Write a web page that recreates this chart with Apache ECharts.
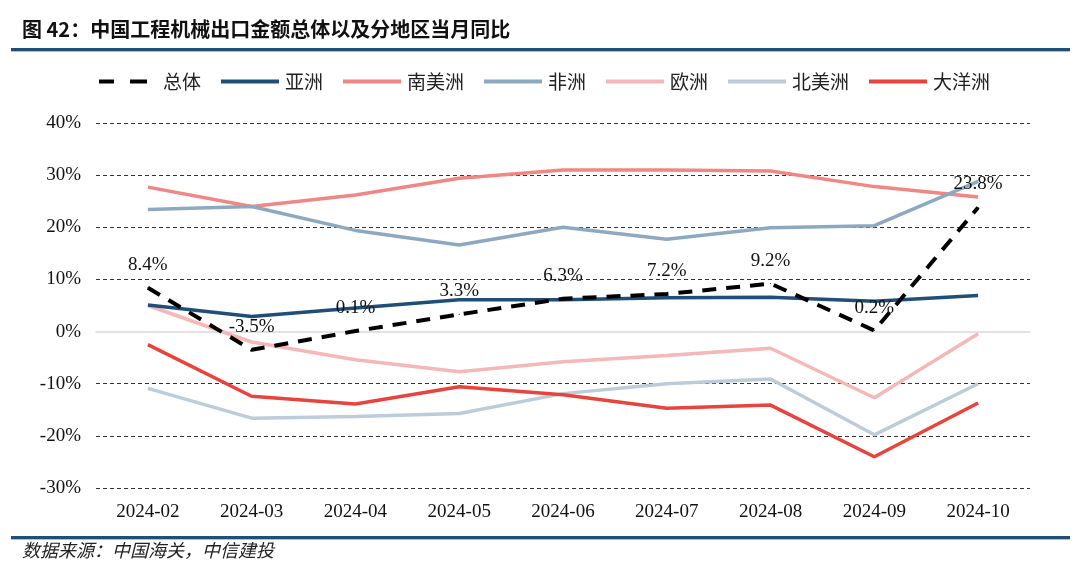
<!DOCTYPE html>
<html><head><meta charset="utf-8">
<script src="https://cdn.jsdelivr.net/npm/echarts@6/dist/echarts.min.js"></script>
<style>html,body{margin:0;padding:0;background:#fff}#c{width:1080px;height:571px}</style>
</head><body><div id="c"></div>
<script>
const categories = ['2024-02','2024-03','2024-04','2024-05','2024-06','2024-07','2024-08','2024-09','2024-10'];
const total   = [8.4, -3.5, 0.1, 3.3, 6.3, 7.2, 9.2, 0.2, 23.8];
const asia    = [5.1, 2.9, 4.5, 6.1, 6.1, 6.5, 6.6, 5.8, 6.9];
const samerica= [27.7, 24.0, 26.2, 29.4, 31.0, 31.0, 30.8, 27.8, 25.8];
const africa  = [23.4, 24.0, 19.4, 16.6, 20.0, 17.7, 19.9, 20.3, 28.8];
const europe  = [5.0, -2.0, -5.4, -7.7, -5.8, -4.6, -3.2, -12.7, -0.4];
const namerica= [-10.9, -16.6, -16.3, -15.7, -11.9, -10.0, -9.1, -19.8, -10.0];
const oceania = [-2.5, -12.4, -13.9, -10.6, -12.1, -14.7, -14.1, -24.0, -13.7];

const serif = '"Liberation Serif", "Times New Roman", "Noto Sans CJK SC", serif';
const cjk = '"Noto Sans CJK SC", sans-serif';
const solidIcon = 'path://M0,0h58v4h-58z';
const dashIcon = 'path://M0,0h15v4h-15z M31,0h17v4h-17z M58,0h0.01v4h-0.01z';

const colors = {
  '总体': '#000000', '亚洲': '#1F4E79', '南美洲': '#F08784', '非洲': '#8DA9C2',
  '欧洲': '#F5B7B7', '北美洲': '#BCCCD9', '大洋洲': '#E8443D'
};

function lineSeries(name, data, extra) {
  const color = colors[name];
  return Object.assign({
    name, type: 'line', data, symbol: 'none', smooth: false,
    lineStyle: { color, width: 3.5 }, itemStyle: { color },
    emphasis: { disabled: true }
  }, extra || {});
}

const chart = echarts.init(document.getElementById('c'), null, { renderer: 'canvas' });
chart.setOption({
  animation: false,
  backgroundColor: '#fff',
  graphic: [
    { type: 'text', left: 22, top: 19, style: { text: '图 42：中国工程机械出口金额总体以及分地区当月同比', font: 'bold 20px ' + cjk, fill: '#111' } },
    { type: 'rect', shape: { x: 11, y: 48, width: 1059, height: 3 }, style: { fill: '#1F4E79' } },
    { type: 'rect', shape: { x: 11, y: 51, width: 1059, height: 1 }, style: { fill: '#A8C2DC' } },
    { type: 'rect', shape: { x: 11, y: 536, width: 1059, height: 3 }, style: { fill: '#1F4E79' } },
    { type: 'rect', shape: { x: 11, y: 539, width: 1059, height: 1 }, style: { fill: '#A8C2DC' } },
    { type: 'text', left: 22, top: 541, style: { text: '数据来源：中国海关，中信建投', font: 'italic 18px ' + cjk, fill: '#222' } }
  ],
  legend: {
    left: 94, top: 67, itemWidth: 58, itemHeight: 4, itemGap: 20,
    textStyle: { fontFamily: cjk, fontSize: 19, color: '#222', padding: [0, 0, 0, 1] },
    data: [
      { name: '总体', icon: dashIcon, itemStyle: { color: colors['总体'] } },
      { name: '亚洲', icon: solidIcon, itemStyle: { color: colors['亚洲'] } },
      { name: '南美洲', icon: solidIcon, itemStyle: { color: colors['南美洲'] } },
      { name: '非洲', icon: solidIcon, itemStyle: { color: colors['非洲'] } },
      { name: '欧洲', icon: solidIcon, itemStyle: { color: colors['欧洲'] } },
      { name: '北美洲', icon: solidIcon, itemStyle: { color: colors['北美洲'] } },
      { name: '大洋洲', icon: solidIcon, itemStyle: { color: colors['大洋洲'] } }
    ]
  },
  grid: { left: 96, right: 50, top: 123, bottom: 83, containLabel: false },
  xAxis: {
    type: 'category', data: categories, boundaryGap: true,
    axisLine: { onZero: true, lineStyle: { color: '#D9D9D9', width: 1.5 } },
    axisTick: { show: false },
    axisLabel: { fontFamily: serif, fontSize: 19, color: '#111', margin: 15, interval: 0 },
    splitLine: { show: false }
  },
  yAxis: {
    type: 'value', min: -30, max: 40, interval: 10,
    axisLine: { show: false }, axisTick: { show: false },
    axisLabel: { fontFamily: serif, fontSize: 19, color: '#111', margin: 15, formatter: v => v + '%' },
    splitLine: { show: true, lineStyle: { type: [4, 3], width: 1, color: ['#333','#333','#333','rgba(0,0,0,0)','#333','#333','#333','#333'] } }
  },
  series: [
    lineSeries('南美洲', samerica),
    lineSeries('非洲', africa),
    lineSeries('欧洲', europe),
    lineSeries('北美洲', namerica),
    lineSeries('大洋洲', oceania),
    lineSeries('亚洲', asia),
    lineSeries('总体', total, {
      symbol: 'circle', symbolSize: 1, showSymbol: true,
      lineStyle: { color: '#000', width: 4, type: [14, 10] },
      label: { show: true, position: 'top', distance: 13, fontFamily: serif, fontSize: 19, color: '#111', formatter: p => p.value.toFixed(1) + '%' },
      z: 5
    })
  ]
});
</script>
</body></html>
